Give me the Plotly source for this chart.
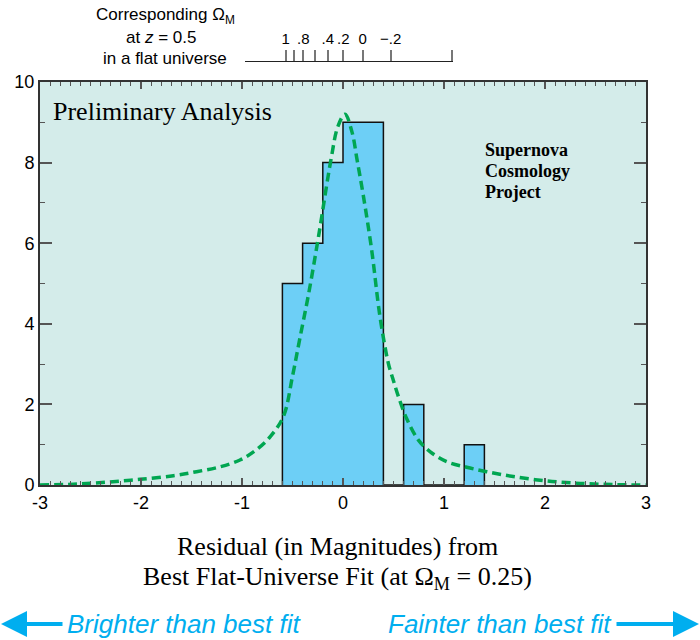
import plotly.graph_objects as go

# Histogram of Hubble-diagram residuals (counts per 0.2 mag bin)
bin_left = [-0.6, -0.4, -0.2, 0.0, 0.2, 0.4, 0.6, 0.8, 1.0, 1.2]
counts = [5, 6, 8, 9, 9, 0, 2, 0, 0, 1]
bin_width = 0.2

# Expected residual distribution (dashed curve)
fit_x = [-3.0, -2.67, -2.34, -2.01, -1.68, -1.45, -1.22, -1.02, -0.86, -0.72,
         -0.59, -0.5, -0.43, -0.34, -0.24, -0.12, -0.05, 0.02, 0.09, 0.14,
         0.2, 0.284, 0.366, 0.449, 0.498, 0.548, 0.63, 0.745, 0.861, 1.027,
         1.225, 1.423, 1.686, 2.017, 2.35, 2.68, 3.0]
fit_y = [0.0, 0.02, 0.07, 0.14, 0.23, 0.33, 0.45, 0.62, 0.87, 1.2,
         1.7, 2.7, 3.6, 4.75, 6.2, 8.06, 8.9, 9.2, 8.75, 8.06,
         7.2, 5.83, 4.18, 3.02, 2.6, 2.2, 1.65, 1.12, 0.83, 0.58,
         0.44, 0.33, 0.21, 0.1, 0.04, 0.01, 0.0]

# Bottom axis ticks
x_ticks = [-3, -2, -1, 0, 1, 2, 3]
x_ticktext = ["-3", "-2", "-1", "0", "1", "2", "3"]

# Corresponding Omega_M scale (positions on the residual axis)
omega_pos = [-0.567, -0.393, -0.151, 0.003, 0.195, 0.472]
omega_labels = ["1", ".8", ".4", ".2", "0", "\u2212.2"]
omega_unlabeled = [-0.482, -0.274, 1.082]
omega_span = [-0.97, 1.09]

SANS = "Liberation Sans, Arial, Helvetica, sans-serif"
SERIF = "Liberation Serif, Times New Roman, Times, serif"
BLUE = "#00aeef"
PLOT_BG = "#d4ecea"

W, H = 700, 640
L, R, T, B = 40, 54, 61, 155
PW, PH = W - L - R, H - T - B


def px(x):
    return (x - L) / PW


def py(y):
    return (H - B - y) / PH


def res_to_px(r):
    return L + (r + 3) / 6 * PW


bar_x = [b + bin_width / 2 for b in bin_left]

# step outline of the histogram
step_x = [bin_left[0]] + bin_left + [bin_left[-1] + bin_width]
step_y = [0] + counts + [0]

fig = go.Figure()
fig.add_trace(go.Bar(x=bar_x, y=counts, width=bin_width,
                     marker=dict(color="#6dcff6", line=dict(width=0)),
                     showlegend=False, hoverinfo="skip"))
fig.add_trace(go.Scatter(x=step_x, y=step_y, mode="lines", line_shape="hv",
                         line=dict(color="#111111", width=1.5),
                         showlegend=False, hoverinfo="skip"))
fig.add_trace(go.Scatter(x=fit_x, y=fit_y, mode="lines",
                         line=dict(color="#00a651", width=3.5, dash="9px,5px",
                                   shape="spline", smoothing=1.0),
                         showlegend=False))
# empty trace so that the Omega_M scale axis gets drawn
fig.add_trace(go.Scatter(x=omega_pos, y=[None] * len(omega_pos), xaxis="x2",
                         yaxis="y", mode="markers", showlegend=False,
                         hoverinfo="skip"))

# plot-area fill (drawn as a shape so the scale axis subplot stays transparent)
fig.add_shape(type="rect", xref="x domain", yref="y domain", x0=0, x1=1,
              y0=0, y1=1, fillcolor=PLOT_BG, line=dict(width=0), layer="below")

ann = []
# left header for the Omega scale
ann.append(dict(text="Corresponding \u03a9<sub>M</sub>", x=px(165), y=py(16)))
ann.append(dict(text="at <i>z</i> = 0.5", x=px(161), y=py(37)))
ann.append(dict(text="in a flat universe", x=px(165), y=py(58)))
for a in ann:
    a.update(xref="paper", yref="paper", showarrow=False, xanchor="center",
             yanchor="middle", font=dict(family=SANS, size=17, color="black"))

ann.append(dict(text="Preliminary Analysis", x=px(51), y=py(111), xref="paper",
                yref="paper", showarrow=False, xanchor="left", yanchor="middle",
                font=dict(family=SERIF, size=26, color="black")))
for i, word in enumerate(["Supernova", "Cosmology", "Project"]):
    ann.append(dict(text="<b>" + word + "</b>", x=px(483), y=py(150 + 21 * i),
                    xref="paper", yref="paper", showarrow=False, xanchor="left",
                    yanchor="middle",
                    font=dict(family=SERIF, size=18, color="black")))

ann.append(dict(text="Residual (in Magnitudes) from", x=px(337), y=py(546),
                xref="paper", yref="paper", showarrow=False, xanchor="center",
                yanchor="middle", font=dict(family=SERIF, size=26, color="black")))
ann.append(dict(text="Best Flat-Universe Fit (at \u03a9<sub>M</sub> = 0.25)",
                x=px(337), y=py(578), xref="paper", yref="paper",
                showarrow=False, xanchor="center", yanchor="middle",
                font=dict(family=SERIF, size=26, color="black")))

# direction labels with their arrows (arrow runs from the label to the tip)
ann.append(dict(text="<i>Brighter than best fit</i>", x=px(1), y=py(624),
                ax=183, ay=0, xref="paper", yref="paper", showarrow=True,
                arrowhead=2, arrowsize=1.3, arrowwidth=4, arrowcolor=BLUE,
                standoff=0, borderpad=4,
                font=dict(family=SANS, size=26, color=BLUE)))
ann.append(dict(text="<i>Fainter than best fit</i>", x=px(699), y=py(624),
                ax=-199, ay=0, xref="paper", yref="paper", showarrow=True,
                arrowhead=2, arrowsize=1.3, arrowwidth=4, arrowcolor=BLUE,
                standoff=0, borderpad=4,
                font=dict(family=SANS, size=26, color=BLUE)))

fig.update_layout(
    width=W, height=H,
    margin=dict(l=L, r=R, t=T, b=B, pad=0),
    paper_bgcolor="white",
    plot_bgcolor="rgba(0,0,0,0)",
    bargap=0,
    annotations=ann,
    xaxis=dict(range=[-3, 3], domain=[0, 1], anchor="y",
               tickmode="array", tickvals=x_ticks, ticktext=x_ticktext,
               ticks="inside", ticklen=7, tickwidth=1.5, tickcolor="#555",
               minor=dict(tickmode="linear", tick0=0, dtick=0.1,
                          ticks="inside", ticklen=4, tickwidth=1,
                          tickcolor="#555", showgrid=False),
               showline=True, linecolor="#333", linewidth=2, mirror="ticks",
               showgrid=False, zeroline=False,
               tickfont=dict(family=SANS, size=18, color="black")),
    yaxis=dict(range=[0, 10], domain=[0, py(82)], anchor="x",
               tickmode="linear", tick0=0, dtick=2,
               ticks="inside", ticklen=12, tickwidth=1.5, tickcolor="#555",
               minor=dict(tickmode="linear", tick0=0, dtick=1,
                          ticks="inside", ticklen=5, tickwidth=1,
                          tickcolor="#555", showgrid=False),
               showline=True, linecolor="#333", linewidth=2, mirror="ticks",
               showgrid=False, zeroline=False,
               tickfont=dict(family=SANS, size=18, color="black")),
    xaxis2=dict(range=omega_span,
                domain=[px(res_to_px(omega_span[0])), px(res_to_px(omega_span[1]))],
                anchor="free", position=1, side="top",
                tickmode="array", tickvals=omega_pos, ticktext=omega_labels,
                ticks="outside", ticklen=11, tickwidth=1.5, tickcolor="#777",
                minor=dict(tickmode="array", tickvals=omega_unlabeled,
                           ticks="outside", ticklen=11, tickwidth=1.5,
                           tickcolor="#777", showgrid=False),
                showline=True, linecolor="#222", linewidth=1,
                showgrid=False, zeroline=False, tickangle=0,
                tickfont=dict(family=SANS, size=15, color="black")),
)

fig.write_html("out.html")
